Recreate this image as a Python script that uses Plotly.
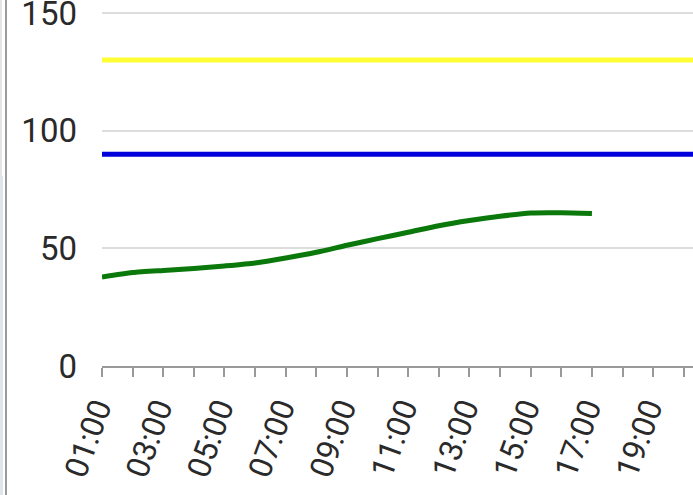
import plotly.graph_objects as go

# Data
hours_all = [1, 2, 3, 4, 5, 6, 7, 8, 9, 10, 11, 12, 13, 14, 15, 16, 17, 18, 19, 20, 21, 22, 23, 24]
upper_limit = [130, 130, 130, 130, 130, 130, 130, 130, 130, 130, 130, 130,
               130, 130, 130, 130, 130, 130, 130, 130, 130, 130, 130, 130]
lower_limit = [90, 90, 90, 90, 90, 90, 90, 90, 90, 90, 90, 90,
               90, 90, 90, 90, 90, 90, 90, 90, 90, 90, 90, 90]
hours_measured = [1, 2, 3, 4, 5, 6, 7, 8, 9, 10, 11, 12, 13, 14, 15, 16, 17]
measured = [37.8, 39.7, 40.6, 41.4, 42.5, 43.8, 45.9, 48.3, 51.3, 54.1, 56.8, 59.6,
            61.8, 63.6, 65.0, 65.1, 64.8]
tick_hours = [1, 2, 3, 4, 5, 6, 7, 8, 9, 10, 11, 12, 13, 14, 15, 16, 17, 18, 19, 20, 21]
tick_labels = ["01:00", "", "03:00", "", "05:00", "", "07:00", "", "09:00", "", "11:00", "",
               "13:00", "", "15:00", "", "17:00", "", "19:00", "", "21:00"]
y_ticks = [0, 50, 100, 150]

fig = go.Figure()
fig.add_trace(go.Scatter(x=hours_all, y=upper_limit, mode="lines",
                         line=dict(color="#ffff33", width=5), hoverinfo="skip"))
fig.add_trace(go.Scatter(x=hours_all, y=lower_limit, mode="lines",
                         line=dict(color="#0000dd", width=5), hoverinfo="skip"))
fig.add_trace(go.Scatter(x=hours_measured, y=measured, mode="lines",
                         line=dict(color="#0a780a", width=5, shape="spline", smoothing=0.6)))

font_fam = "Roboto, Noto Sans, sans-serif"

fig.update_layout(
    width=693, height=495, autosize=False,
    margin=dict(l=102, r=0, t=0, b=129, pad=0, autoexpand=False),
    paper_bgcolor="white", plot_bgcolor="white",
    showlegend=False,
    font=dict(family=font_fam, color="#2a2a2a", size=30),
    xaxis=dict(
        range=[1, 20.3], tickmode="array", tickvals=tick_hours, ticktext=tick_labels,
        tickangle=-70, showgrid=False, zeroline=False, automargin=False,
        showline=True, linecolor="#999999", linewidth=2,
        ticks="outside", ticklen=9, tickwidth=2, tickcolor="#999999",
        ticklabelshift=-5, ticklabeloverflow="allow",
        tickfont=dict(family=font_fam, size=32, color="#2a2a2a"),
    ),
    yaxis=dict(
        range=[0, 155.5], tickmode="array", tickvals=y_ticks, automargin=False,
        showgrid=True, gridcolor="#dddddd", gridwidth=2,
        zeroline=False, showline=False, ticks="",
        ticklabelstandoff=24, ticklabeloverflow="allow",
        tickfont=dict(family=font_fam, size=33, color="#2a2a2a"),
    ),
    shapes=[
        dict(type="rect", xref="paper", yref="paper", xsizemode="pixel", ysizemode="pixel",
             xanchor=0, yanchor=0, x0=-102, x1=-99, y0=-129, y1=190,
             fillcolor="#dfe5e8", line=dict(width=0), layer="above"),
        dict(type="rect", xref="paper", yref="paper", xsizemode="pixel", ysizemode="pixel",
             xanchor=0, yanchor=0, x0=-102, x1=-100, y0=190, y1=366,
             fillcolor="#e4e4e4", line=dict(width=0), layer="above"),
        dict(type="line", xref="paper", yref="paper", xsizemode="pixel", ysizemode="pixel",
             xanchor=0, yanchor=0, x0=-96, x1=-96, y0=-129, y1=366,
             line=dict(color="#9a9a9a", width=2), layer="above"),
    ],
)

fig.write_html("out.html", post_script="document.body.style.margin='0';",
               config={"displayModeBar": False})
